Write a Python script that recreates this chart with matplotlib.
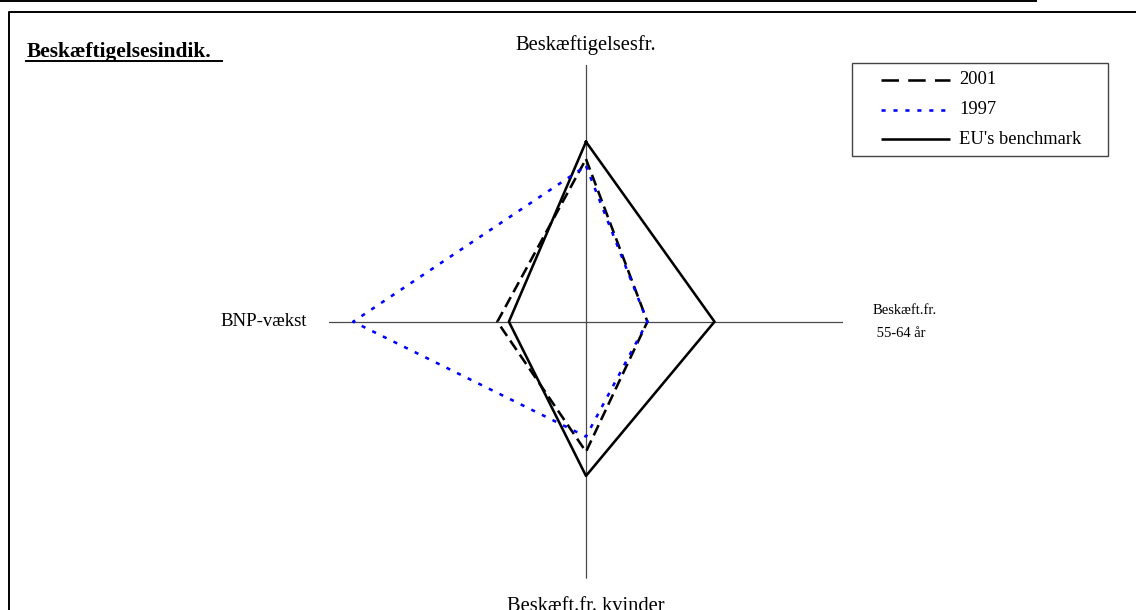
import numpy as np
import matplotlib
matplotlib.use("Agg")
import matplotlib.pyplot as plt
from matplotlib.lines import Line2D
from matplotlib.patches import Rectangle

plt.rcParams['font.family'] = ['Liberation Serif', 'DejaVu Serif']

categories = ["Beskæftigelsesfr.", "Beskæft.fr.\n 55-64 år", "Beskæft.fr. kvinder", "BNP-vækst"]
v2001 = [63.3, 23.9, 50.6, 34.5]
v1997 = [60.6, 23.9, 44.7, 90.6]
eu_bench = [70, 50, 60, 30]
series_names = ['2001', '1997', "EU's benchmark"]
axis_max = 100

W, H = 1136, 610
fig = plt.figure(figsize=(W / 100, H / 100), dpi=100)

lw = 1.85
dash_2001 = (0, (4.4, 2.2))
dot_1997 = (0, (1.6, 3.0))

# radar axes, centre and radius in pixels
cx, cy, rad = 586, 321.7, 257
ax = fig.add_axes([(cx - rad) / W, 1 - (cy + rad) / H, 2 * rad / W, 2 * rad / H],
                  projection='polar')
ax.set_theta_zero_location('N')
ax.set_theta_direction(-1)
ax.set_ylim(0, axis_max)
ax.grid(False)
ax.set_xticks([])
ax.set_yticks([])
ax.spines['polar'].set_visible(False)
ax.patch.set_alpha(0)

angles = np.arange(len(categories)) * 2 * np.pi / len(categories)

# axis spokes
for a in angles:
    ax.plot([a, a], [0, axis_max], color='#4a4a4a', lw=0.9, zorder=1)


def closed(vals):
    return np.append(angles, angles[0]), np.append(vals, vals[0])


t, r = closed(v2001)
ax.plot(t, r, color='black', lw=lw, ls=dash_2001, zorder=3)
t, r = closed(v1997)
ax.plot(t, r, color='#0000ff', lw=lw, ls=dot_1997, zorder=4)
t, r = closed(eu_bench)
ax.plot(t, r, color='black', lw=lw, zorder=2)

ax.text(angles[0], 107.5, categories[0], ha='center', va='center', fontsize=14.8, clip_on=False)
ax.text(angles[1], 111.5, categories[1], ha='left', va='center', fontsize=10.5,
        linespacing=2.0, clip_on=False)
ax.text(angles[2], 107, categories[2], ha='center', va='top', fontsize=14.8, clip_on=False)
ax.text(angles[3], 108.6, categories[3], ha='right', va='center', fontsize=13.5, clip_on=False)

# legend box, drawn by hand to match the original layout
fig.add_artist(Rectangle((852 / W, 1 - 156 / H), 256 / W, 93 / H, fill=False,
                         edgecolor='#444444', lw=1.0, transform=fig.transFigure))
leg_styles = [dict(color='black', ls=(0, (6.8, 3.6))),
              dict(color='#0000ff', ls=(0, (1.6, 3.05))),
              dict(color='black', ls='-')]
for i, (name, st) in enumerate(zip(series_names, leg_styles)):
    y = 1 - (80 + i * 29.5) / H
    fig.add_artist(Line2D([881 / W, 950 / W], [y, y], lw=lw, transform=fig.transFigure,
                          solid_capstyle='butt', dash_capstyle='butt', **st))
    fig.text(959 / W, y, name, fontsize=13.3, ha='left', va='center')

# title, bold and underlined
fig.text(27 / W, 1 - 57 / H, "Beskæftigelsesindik.", fontsize=15.4,
         fontweight='bold', ha='left', va='baseline')
fig.add_artist(Line2D([26 / W, 222 / W], [1 - 61 / H, 1 - 61 / H],
                      color='black', lw=1.4, transform=fig.transFigure))

# outer frame
fig.add_artist(Line2D([9 / W, 9 / W, 1], [0, 1 - 12 / H, 1 - 12 / H],
                      color='black', lw=1.4, transform=fig.transFigure))
fig.add_artist(Line2D([0, 1036 / W], [1 - 0.5 / H, 1 - 0.5 / H],
                      color='black', lw=1.4, transform=fig.transFigure))

fig.savefig('out.png', dpi=100)
